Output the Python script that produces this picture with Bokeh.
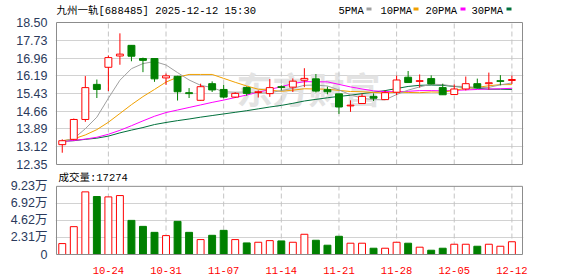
from bokeh.plotting import figure
from bokeh.models import Range1d, FixedTicker
from bokeh.layouts import column
from bokeh.embed import file_html
from bokeh.resources import INLINE
from bokeh.core.properties import value

title_text = "九州一轨[688485] 2025-12-12 15:30"
vol_title = "成交量:17274"
watermark = "东方财富"
legend_names = ["5PMA", "10PMA", "20PMA", "30PMA"]
legend_colors = ["#a0a0a0", "#f0a000", "#ff00ff", "#00703c"]

dates = ["10-20", "10-21", "10-22", "10-23", "10-24", "10-27", "10-28", "10-29", "10-30", "10-31",
         "11-03", "11-04", "11-05", "11-06", "11-07", "11-10", "11-11", "11-12", "11-13", "11-14",
         "11-17", "11-18", "11-19", "11-20", "11-21", "11-24", "11-25", "11-26", "11-27", "11-28",
         "12-01", "12-02", "12-03", "12-04", "12-05", "12-08", "12-09", "12-10", "12-11", "12-12"]
label_dates = ["10-24", "10-31", "11-07", "11-14", "11-21", "11-28", "12-05", "12-12"]

opens = [13.21, 13.44, 14.30, 15.82, 16.56, 17.05, 17.51, 16.94, 16.94, 16.10,
         16.17, 15.46, 15.13, 15.85, 15.60, 15.27, 15.68, 15.47, 15.42, 15.72,
         15.70, 16.00, 16.06, 15.59, 15.41, 14.89, 14.99, 15.30, 15.16, 15.48,
         16.13, 15.95, 16.07, 15.68, 15.38, 15.62, 15.85, 15.85, 15.98, 15.99]
highs = [13.44, 14.34, 16.18, 16.03, 17.07, 18.03, 17.51, 16.98, 16.94, 16.29,
         16.19, 15.66, 15.85, 15.95, 15.80, 15.48, 15.73, 15.56, 16.05, 15.78,
         16.08, 16.52, 16.27, 15.72, 15.41, 15.13, 15.42, 15.43, 15.55, 16.20,
         16.40, 16.25, 16.21, 15.85, 15.82, 16.16, 16.07, 16.33, 16.22, 16.20]
lows = [12.86, 13.40, 14.20, 15.23, 15.53, 16.67, 16.82, 16.35, 15.93, 15.80,
        15.12, 15.23, 15.12, 15.49, 15.22, 15.23, 15.33, 15.25, 15.28, 15.56,
        15.49, 15.70, 15.47, 15.39, 14.54, 14.63, 14.99, 15.10, 15.16, 15.35,
        15.90, 15.68, 15.82, 15.37, 15.38, 15.56, 15.63, 15.59, 15.78, 15.84]
closes = [13.38, 14.30, 15.68, 15.60, 16.98, 17.13, 17.04, 16.86, 16.06, 16.19,
          15.50, 15.42, 15.72, 15.58, 15.27, 15.43, 15.43, 15.50, 15.68, 15.69,
          15.96, 16.08, 15.53, 15.50, 14.84, 14.92, 15.30, 15.22, 15.46, 16.01,
          15.90, 15.98, 15.84, 15.37, 15.62, 15.85, 15.69, 15.89, 15.95, 16.03]

ma5 = [13.36, 13.47, 13.90, 14.40, 15.22, 16.00, 16.50, 16.72, 16.81, 16.66,
       16.33, 16.01, 15.78, 15.68, 15.50, 15.48, 15.49, 15.44, 15.46, 15.55,
       15.65, 15.78, 15.79, 15.75, 15.58, 15.37, 15.22, 15.16, 15.15, 15.38,
       15.57, 15.71, 15.83, 15.81, 15.74, 15.73, 15.68, 15.69, 15.80, 15.88]
ma10 = [13.38, 13.46, 13.63, 13.86, 14.18, 14.56, 14.94, 15.29, 15.60, 15.92,
        16.13, 16.25, 16.25, 16.25, 16.08, 15.91, 15.75, 15.61, 15.57, 15.52,
        15.57, 15.63, 15.62, 15.61, 15.56, 15.51, 15.50, 15.47, 15.45, 15.48,
        15.47, 15.46, 15.49, 15.48, 15.56, 15.65, 15.69, 15.76, 15.81, 15.81]
ma20 = [13.35, 13.39, 13.45, 13.53, 13.66, 13.83, 14.03, 14.24, 14.44, 14.60,
        14.71, 14.82, 14.93, 15.04, 15.14, 15.25, 15.36, 15.48, 15.60, 15.72,
        15.85, 15.94, 15.93, 15.93, 15.82, 15.71, 15.62, 15.54, 15.51, 15.50,
        15.52, 15.55, 15.55, 15.54, 15.56, 15.58, 15.60, 15.62, 15.63, 15.65]
ma30 = [13.36, 13.38, 13.44, 13.49, 13.58, 13.72, 13.84, 13.95, 14.08, 14.17,
        14.25, 14.32, 14.40, 14.47, 14.54, 14.61, 14.68, 14.76, 14.84, 14.91,
        15.00, 15.10, 15.17, 15.24, 15.30, 15.35, 15.42, 15.48, 15.55, 15.64,
        15.73, 15.78, 15.79, 15.78, 15.73, 15.69, 15.65, 15.61, 15.61, 15.60]

volumes = [14800, 37700, 84800, 78500, 78000, 79800, 46200, 38100, 30000, 25600,
           44900, 30000, 20200, 26000, 32700, 20200, 15700, 16600, 18800, 18400,
           16600, 27400, 19300, 12600, 24700, 15300, 15300, 8500, 8500, 16600,
           15300, 9900, 5800, 8500, 13900, 13900, 11200, 13900, 11200, 17274]
vol_up = [1, 1, 1, 0, 1, 1, 0, 0, 0, 1, 0, 0, 1, 0, 0, 1, 0, 1, 1, 0,
          1, 1, 0, 0, 0, 1, 1, 0, 1, 1, 0, 1, 0, 0, 1, 1, 0, 1, 1, 1]

price_ticks = [12.35, 13.12, 13.89, 14.66, 15.43, 16.19, 16.96, 17.73, 18.50]
price_tick_labels = ["12.35", "13.12", "13.89", "14.66", "15.43", "16.19", "16.96", "17.73", "18.50"]
vol_ticks = [0, 23100, 46200, 69200, 92300]
vol_tick_labels = ["0", "2.31万", "4.62万", "6.92万", "9.23万"]

# ---- styling / layout constants (pixels) ----
RED = "#ff0000"
GREEN = "#008000"
AXIS_TEXT = "#2b3a5c"
GRID = "#d2d2d2"
VGRID = "#c4c4c4"
BORDER = "#8c8c8c"
MONO = "Liberation Mono, Noto Sans CJK SC"
W, H1, H2 = 578, 172, 104
PL, PR = 56, 522          # panel left / right edge
P1T, P1B = 22, 164        # price panel top / bottom inside first canvas
P2T, P2B = 14, 83         # volume panel top / bottom inside second canvas

n = len(dates)
idx = list(range(n))
date_idx = [dates.index(d) for d in label_dates]
up = [c >= o for o, c in zip(opens, closes)]
cndl_line = [RED if u else GREEN for u in up]
cndl_fill = ["white" if u else GREEN for u in up]
body_top = [max(o, c) for o, c in zip(opens, closes)]
body_bot = [min(o, c) for o, c in zip(opens, closes)]
vol_line = [RED if u else GREEN for u in vol_up]
vol_fill = ["white" if u else GREEN for u in vol_up]

x_lo, x_hi = -0.5, n - 0.08
kx = (x_hi - x_lo) / (PR - PL)
x_range = Range1d(x_lo - kx, x_hi + kx)

y_lo, y_hi = price_ticks[0], price_ticks[-1]
ky = (y_hi - y_lo) / (P1B - P1T)
v_lo, v_hi = vol_ticks[0], vol_ticks[-1]
kv = (v_hi - v_lo) / (P2B - P2T)


def px_x(X):
    return x_lo + (X - PL) * kx


def px_y1(Y):
    return y_hi - (Y - P1T) * ky


def px_y2(Y):
    return v_hi - (Y - P2T) * kv


def style(p, ticks, labels, lo, hi):
    p.background_fill_color = "white"
    p.border_fill_color = "white"
    p.outline_line_color = None
    p.yaxis.ticker = FixedTicker(ticks=ticks)
    p.yaxis.major_label_overrides = {t: l for t, l in zip(ticks, labels)}
    p.yaxis.axis_line_color = None
    p.yaxis.major_tick_line_color = None
    p.yaxis.minor_tick_line_color = None
    p.yaxis.major_label_standoff = 2
    p.yaxis.major_label_text_font = "Liberation Sans, Noto Sans CJK SC"
    p.yaxis.major_label_text_font_size = "12.5px"
    p.yaxis.major_label_text_color = AXIS_TEXT
    p.ygrid.ticker = FixedTicker(ticks=ticks[1:-1])
    p.ygrid.grid_line_color = GRID
    p.xgrid.visible = False
    # dashed date grid lines, only inside the panel
    p.segment(x0=date_idx, y0=[lo] * len(date_idx), x1=date_idx, y1=[hi] * len(date_idx),
              line_color=VGRID, line_width=1, line_dash="5 3")


p1 = figure(width=W, height=H1, x_range=x_range, y_range=Range1d(y_lo - ky, y_hi + ky * P1T),
            output_backend="svg", toolbar_location=None, title=None,
            min_border_left=PL - 1, min_border_right=W - PR - 1,
            min_border_top=0, min_border_bottom=H1 - P1B - 1)
p1.xaxis.visible = False
p1.text(x=[px_x(236)], y=[px_y1(87)], text=[watermark], text_font=value("Noto Sans CJK SC"),
        text_font_size="36px", text_font_style="bold", text_color="#e3e3e3",
        text_baseline="middle", text_align="left")
style(p1, price_ticks, price_tick_labels, y_lo, y_hi)

for ma, col in zip([ma30, ma20, ma10, ma5], legend_colors[::-1]):
    p1.line(idx, ma, line_color=col, line_width=1)

p1.segment(x0=idx, y0=lows, x1=idx, y1=highs, line_color=cndl_line, line_width=1)
p1.vbar(x=idx, width=0.6, top=body_top, bottom=body_bot, fill_color=cndl_fill,
        line_color=cndl_line, line_width=1)

p1.quad(left=[x_lo], right=[x_hi], bottom=[y_lo], top=[y_hi], fill_color=None,
        line_color=BORDER, line_width=1)

p1.text(x=[px_x(56)], y=[px_y1(10.5)], text=[title_text], text_font=value(MONO),
        text_font_size="10.5px", text_color="#000000", text_baseline="middle", text_align="left")

leg_text_x = [338, 380, 425, 471]
leg_box_x = [366, 413, 460, 506]
p1.text(x=[px_x(v) for v in leg_text_x], y=[px_y1(10)] * 4, text=legend_names,
        text_font=value(MONO), text_font_size="10.5px", text_color="#000000",
        text_baseline="middle", text_align="left")
p1.quad(left=[px_x(v) for v in leg_box_x], right=[px_x(v + 5) for v in leg_box_x],
        top=[px_y1(7)] * 4, bottom=[px_y1(10)] * 4, fill_color=legend_colors, line_color=None)

p2 = figure(width=W, height=H2, x_range=x_range, y_range=Range1d(v_lo - kv, v_hi + kv * P2T),
            output_backend="svg", toolbar_location=None, title=None,
            min_border_left=PL - 1, min_border_right=W - PR - 1,
            min_border_top=0, min_border_bottom=H2 - P2B - 1)
style(p2, vol_ticks, vol_tick_labels, v_lo, v_hi)
p2.xaxis.ticker = FixedTicker(ticks=date_idx)
p2.xaxis.major_label_overrides = {i: d for i, d in zip(date_idx, label_dates)}
p2.xaxis.axis_line_color = None
p2.xaxis.major_tick_line_color = None
p2.xaxis.minor_tick_line_color = None
p2.xaxis.major_label_standoff = 5
p2.xaxis.major_label_text_font = MONO
p2.xaxis.major_label_text_font_size = "10.5px"
p2.xaxis.major_label_text_color = RED

p2.vbar(x=idx, width=0.6, top=volumes, bottom=0, fill_color=vol_fill, line_color=vol_line, line_width=1)
p2.quad(left=[x_lo], right=[x_hi], bottom=[v_lo], top=[v_hi], fill_color=None,
        line_color=BORDER, line_width=1)
p2.text(x=[px_x(58)], y=[px_y2(5.7)], text=[vol_title], text_font=value(MONO),
        text_font_size="10.5px", text_color="#000000", text_baseline="middle", text_align="left")

layout = column(p1, p2, spacing=0)
open("out.html", "w").write(file_html(layout, INLINE))
